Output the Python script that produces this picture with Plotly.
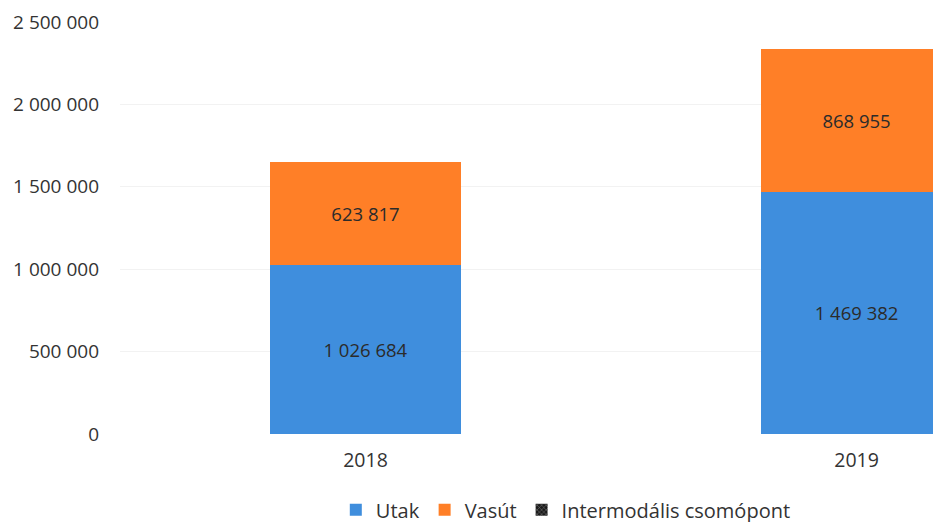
import plotly.graph_objects as go

years = ["2018", "2019"]
utak = [1026684, 1469382]
vasut = [623817, 868955]
intermodal = [0, 0]
y_ticks = [0, 500000, 1000000, 1500000, 2000000, 2500000]

font_family = "Open Sans, Liberation Sans, sans-serif"
text_color = "#333333"

fig = go.Figure()
fig.add_trace(go.Bar(
    x=years, y=utak, name="Utak",
    marker=dict(color="#3F8EDD", line=dict(width=0)),
    texttemplate="%{y:,d}", textposition="inside", insidetextanchor="middle",
    textfont=dict(color="#2b2b2b", size=18.5, family=font_family),
))
fig.add_trace(go.Bar(
    x=years, y=vasut, name="Vasút",
    marker=dict(color="#FF7F27", line=dict(width=0)),
    texttemplate="%{y:,d}", textposition="inside", insidetextanchor="middle",
    textfont=dict(color="#2b2b2b", size=18.5, family=font_family),
))
fig.add_trace(go.Bar(
    x=years, y=intermodal, name="Intermodális csomópont",
    marker=dict(color="#1a1a1a", line=dict(width=0),
                pattern=dict(shape="x", fgcolor="#ffffff", bgcolor="#1a1a1a", size=4, solidity=0.25)),
    texttemplate="", showlegend=True,
))

fig.update_layout(
    barmode="stack",
    bargap=0.61,
    separators=". ",
    width=941, height=522,
    margin=dict(l=112, r=8, t=14, b=96, autoexpand=False),
    paper_bgcolor="white", plot_bgcolor="white",
    font=dict(family=font_family, size=19, color=text_color),
    showlegend=True,
    legend=dict(orientation="h", x=0.543, xanchor="center", y=-0.184, yanchor="middle",
                font=dict(size=20, color=text_color), traceorder="normal",
                itemwidth=30, tracegroupgap=0),
    xaxis=dict(range=[-0.5, 1.172], showgrid=False, zeroline=False, showline=False,
               ticks="", ticklabelstandoff=12, tickfont=dict(size=19.5), automargin=False),
    yaxis=dict(range=[0, 2500000], tickvals=y_ticks, tickformat=",d",
               showgrid=True, gridcolor="#f2f2f2", gridwidth=1, zeroline=False,
               showline=False, ticks="", ticklabelstandoff=20, tickfont=dict(size=19),
               automargin=False),
)

fig.write_html("out.html")
